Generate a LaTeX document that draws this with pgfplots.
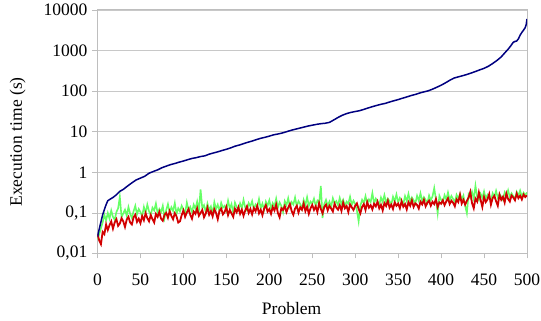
\documentclass[border=0pt]{standalone}
\usepackage{fontspec}
\setmainfont{Liberation Serif}
\usepackage{pgfplots}
\usepackage{pgfplotstable}
\pgfplotsset{compat=1.18}
\definecolor{navyc}{RGB}{0,0,128}
\definecolor{redc}{RGB}{210,0,0}
\definecolor{greenc}{RGB}{102,255,102}
\definecolor{axgray}{RGB}{190,190,190}
\definecolor{gridgray}{RGB}{200,200,200}

\pgfplotstableread{
x y
0 0.026
2 0.04
4 0.06
6 0.09
8 0.12
10 0.16
12 0.20
15 0.22
18 0.24
22 0.28
26 0.34
30 0.38
35 0.46
40 0.55
45 0.65
50 0.72
55 0.80
60 0.95
65 1.05
70 1.15
75 1.30
80 1.42
85 1.55
90 1.65
95 1.78
100 1.90
105 2.05
110 2.20
115 2.30
120 2.45
125 2.55
130 2.80
135 3.00
140 3.20
145 3.45
150 3.70
155 4.00
160 4.40
165 4.70
170 5.10
175 5.50
180 5.90
185 6.40
190 6.90
195 7.30
200 7.80
205 8.40
210 8.80
215 9.30
220 10.0
225 10.8
230 11.5
235 12.2
240 13.0
245 13.8
250 14.5
255 15.2
260 15.8
265 16.2
270 17.0
275 19.5
280 22.5
285 25.5
290 28.0
295 30.0
300 31.5
305 33.0
310 35.5
315 38.5
320 41.5
325 44.5
330 47.5
335 50.0
340 54.0
345 58.0
350 62.0
355 67.0
360 72.0
365 78.0
370 83.0
375 90.0
380 96.0
385 102
390 112
395 125
400 140
405 160
410 185
415 210
420 225
425 240
430 258
435 280
440 305
445 335
450 365
455 410
460 480
465 570
470 700
475 920
478 1080
481 1300
484 1600
486 1680
488 1720
490 1950
492 2400
494 2800
496 3200
498 3700
499 4300
500 6000
}\navydata

\pgfplotstableread{
x y
0 0.030
2 0.021
4 0.017
6 0.034
8 0.030
10 0.052
12 0.038
14 0.050
16 0.062
18 0.041
20 0.058
22 0.070
24 0.048
26 0.055
28 0.074
30 0.062
32 0.045
34 0.068
36 0.080
38 0.058
40 0.052
42 0.078
44 0.090
46 0.060
48 0.072
50 0.056
52 0.084
54 0.066
56 0.098
58 0.074
60 0.062
62 0.088
64 0.070
66 0.058
68 0.094
70 0.080
72 0.105
74 0.072
76 0.064
78 0.090
80 0.100
82 0.076
84 0.110
86 0.085
88 0.070
90 0.098
92 0.082
94 0.058
96 0.062
98 0.088
100 0.115
102 0.080
104 0.102
106 0.125
108 0.090
110 0.072
112 0.108
114 0.095
116 0.130
118 0.085
120 0.100
122 0.118
124 0.078
126 0.096
128 0.135
130 0.090
132 0.110
134 0.082
136 0.124
138 0.100
140 0.070
142 0.112
144 0.128
146 0.092
148 0.105
150 0.140
152 0.088
154 0.118
156 0.098
158 0.080
160 0.126
162 0.104
164 0.138
166 0.095
168 0.120
170 0.085
172 0.115
174 0.145
176 0.100
178 0.125
180 0.092
182 0.132
184 0.110
186 0.150
188 0.098
190 0.120
192 0.088
194 0.128
196 0.155
198 0.108
200 0.124
202 0.095
204 0.140
206 0.115
208 0.160
210 0.100
212 0.078
214 0.130
216 0.118
218 0.148
220 0.105
222 0.135
224 0.165
226 0.112
228 0.090
230 0.128
232 0.150
234 0.102
236 0.138
238 0.120
240 0.170
242 0.110
244 0.142
246 0.095
248 0.130
250 0.158
252 0.118
254 0.145
256 0.105
258 0.175
260 0.125
262 0.098
264 0.140
266 0.160
268 0.115
270 0.150
272 0.128
274 0.108
276 0.168
278 0.135
280 0.120
282 0.155
284 0.112
286 0.180
288 0.130
290 0.148
292 0.105
294 0.162
296 0.138
298 0.118
300 0.150
302 0.172
304 0.125
306 0.098
308 0.140
310 0.165
312 0.118
314 0.185
316 0.135
318 0.155
320 0.122
322 0.168
324 0.145
326 0.190
328 0.130
330 0.158
332 0.115
334 0.175
336 0.148
338 0.200
340 0.135
342 0.160
344 0.125
346 0.182
348 0.150
350 0.170
352 0.130
354 0.195
356 0.142
358 0.165
360 0.122
362 0.185
364 0.150
366 0.205
368 0.140
370 0.172
372 0.158
374 0.128
376 0.190
378 0.162
380 0.210
382 0.145
384 0.178
386 0.200
388 0.150
390 0.188
392 0.165
394 0.220
396 0.140
398 0.182
400 0.168
402 0.205
404 0.155
406 0.192
408 0.230
410 0.165
412 0.200
414 0.178
416 0.145
418 0.215
420 0.185
422 0.280
424 0.170
426 0.210
428 0.160
430 0.198
432 0.240
434 0.330
436 0.175
438 0.130
440 0.225
442 0.190
444 0.320
446 0.210
448 0.140
450 0.245
452 0.185
454 0.215
456 0.290
458 0.160
460 0.230
462 0.265
464 0.195
466 0.150
468 0.280
470 0.210
472 0.250
474 0.180
476 0.300
478 0.220
480 0.190
482 0.270
484 0.240
486 0.205
488 0.300
490 0.230
492 0.265
494 0.215
496 0.285
498 0.245
500 0.270
}\reddata

\pgfplotstableread{
x y
0 0.022
2 0.030
4 0.042
6 0.058
8 0.090
10 0.065
12 0.100
14 0.072
16 0.115
18 0.080
20 0.068
22 0.105
24 0.130
26 0.250
28 0.078
30 0.098
32 0.120
34 0.085
36 0.140
38 0.095
40 0.075
42 0.110
44 0.150
46 0.092
48 0.125
50 0.105
52 0.082
54 0.140
56 0.098
58 0.160
60 0.110
62 0.088
64 0.135
66 0.115
68 0.170
70 0.098
72 0.125
74 0.105
76 0.150
78 0.075
80 0.118
82 0.165
84 0.102
86 0.138
88 0.112
90 0.175
92 0.095
94 0.130
96 0.108
98 0.150
100 0.120
102 0.098
104 0.180
106 0.115
108 0.140
110 0.105
112 0.160
114 0.125
116 0.190
118 0.110
120 0.380
122 0.130
124 0.155
126 0.105
128 0.170
130 0.118
132 0.145
134 0.095
136 0.185
138 0.125
140 0.160
142 0.110
144 0.178
146 0.135
148 0.150
150 0.115
152 0.200
154 0.128
156 0.165
158 0.100
160 0.180
162 0.140
164 0.118
166 0.172
168 0.130
170 0.210
172 0.135
174 0.115
176 0.175
178 0.145
180 0.195
182 0.125
184 0.162
186 0.140
188 0.220
190 0.130
192 0.170
194 0.120
196 0.190
198 0.150
200 0.205
202 0.128
204 0.175
206 0.145
208 0.225
210 0.135
212 0.182
214 0.150
216 0.105
218 0.195
220 0.155
222 0.230
224 0.140
226 0.185
228 0.160
230 0.240
232 0.145
234 0.195
236 0.165
238 0.125
240 0.210
242 0.155
244 0.245
246 0.150
248 0.190
250 0.170
252 0.225
254 0.148
256 0.200
258 0.175
260 0.460
262 0.075
264 0.165
266 0.210
268 0.150
270 0.190
272 0.140
274 0.230
276 0.170
278 0.195
280 0.155
282 0.235
284 0.165
286 0.210
288 0.150
290 0.190
292 0.170
294 0.250
296 0.158
298 0.200
300 0.165
302 0.115
304 0.062
306 0.150
308 0.210
310 0.175
312 0.260
314 0.168
316 0.215
318 0.185
320 0.310
322 0.172
324 0.225
326 0.190
328 0.155
330 0.240
332 0.185
334 0.275
336 0.178
338 0.225
340 0.195
342 0.160
344 0.250
346 0.190
348 0.285
350 0.182
352 0.235
354 0.200
356 0.165
358 0.260
360 0.195
362 0.295
364 0.188
366 0.240
368 0.205
370 0.170
372 0.265
374 0.200
376 0.305
378 0.195
380 0.245
382 0.210
384 0.175
386 0.270
388 0.205
390 0.255
392 0.410
394 0.215
396 0.098
398 0.265
400 0.210
402 0.180
404 0.275
406 0.215
408 0.320
410 0.208
412 0.262
414 0.220
416 0.185
418 0.280
420 0.225
422 0.295
424 0.212
426 0.268
428 0.150
430 0.098
432 0.285
434 0.235
436 0.330
438 0.220
440 0.470
442 0.245
444 0.205
446 0.295
448 0.235
450 0.340
452 0.225
454 0.280
456 0.240
458 0.200
460 0.305
462 0.245
464 0.350
466 0.235
468 0.295
470 0.250
472 0.210
474 0.320
476 0.255
478 0.360
480 0.245
482 0.305
484 0.260
486 0.225
488 0.330
490 0.265
492 0.355
494 0.255
496 0.315
498 0.275
500 0.320
}\greendata

\begin{document}
\fontsize{17.5}{20}\selectfont
\begin{tikzpicture}
\path[use as bounding box] (-97.5pt,-67.5pt) rectangle (443.5pt,253.5pt);
\begin{axis}[
  at={(0,0)}, anchor=south west,
  scale only axis,
  width=429.5pt, height=243.5pt,
  ymode=log,
  xmin=0, xmax=500,
  ymin=0.01, ymax=10000,
  xtick={0,50,...,500},
  xticklabels={0,50,100,150,200,250,300,350,400,450,500},
  ytick={0.01,0.1,1,10,100,1000,10000},
  yticklabels={{0,01},{0,1},1,10,100,1000,10000},
  yminorticks=false, xminorticks=false,
  tick align=outside,
  major tick length=5pt,
  tick style={axgray, line width=0.8pt},
  axis line style={axgray, line width=1pt},
  ymajorgrids=true,
  major grid style={gridgray, line width=0.8pt},
  xtick pos=bottom, ytick pos=left,
  tick label style={font=\fontsize{17.5}{20}\selectfont},
  xticklabel style={anchor=base, yshift=-27pt},
  yticklabel style={anchor=east, inner sep=0pt, xshift=-5pt},
  label style={font=\fontsize{17.5}{20}\selectfont},
  xlabel={Problem},
  ylabel={Execution time (s)},
  xlabel style={at={(axis description cs:0.452,-0.249)}, anchor=base},
  ylabel style={at={(axis description cs:-0.186,0.458)}, anchor=center},
  clip=true,
]
\addplot[greenc, line width=1.6pt] table {\greendata};
\addplot[redc, line width=1.8pt] table {\reddata};
\addplot[navyc, line width=1.5pt] table {\navydata};
\end{axis}
\end{tikzpicture}
\end{document}
